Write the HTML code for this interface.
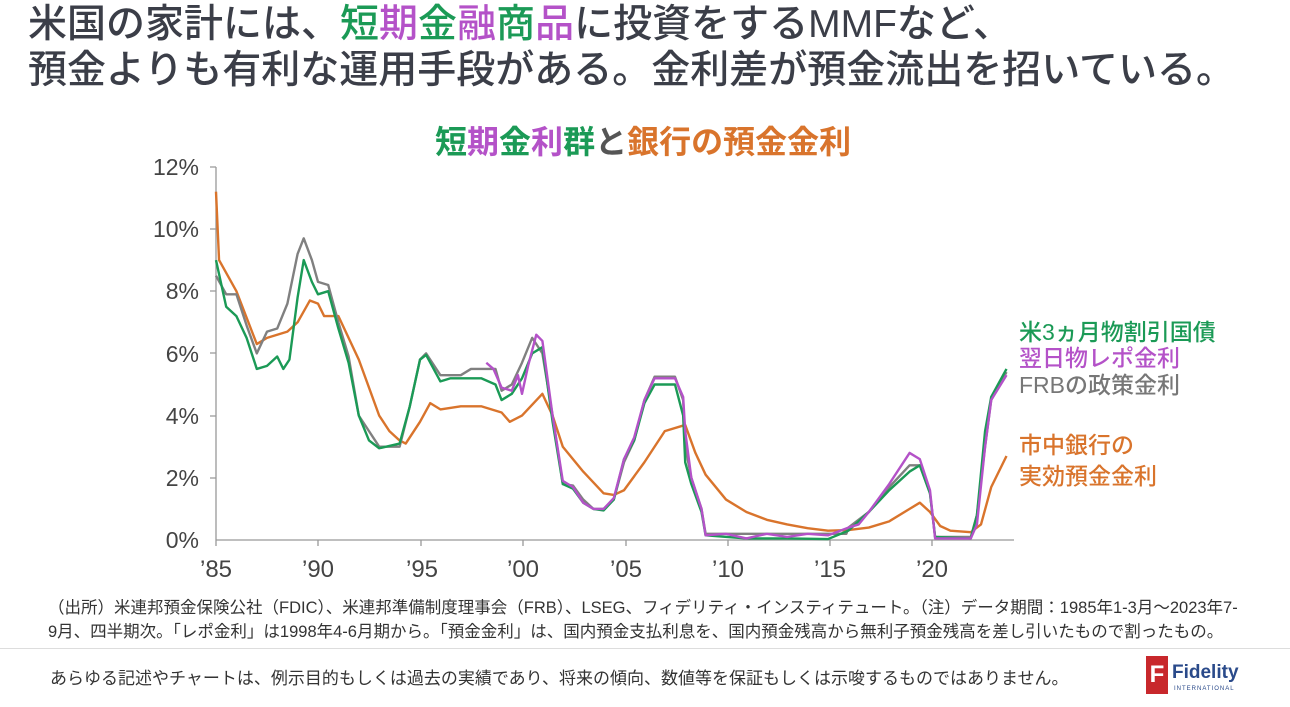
<!DOCTYPE html>
<html><head><meta charset="utf-8">
<style>
body{margin:0;width:1290px;height:707px;background:#fff;overflow:hidden;font-family:"Liberation Sans","Noto Sans CJK JP",sans-serif;position:relative}
.t{position:absolute;white-space:nowrap}
.g{color:#1b9a56}.p{color:#b452c8}.o{color:#d9742c}.y{color:#777}
</style></head><body>
<div class="t" style="left:28px;top:2px;font-size:39px;line-height:46px;color:#3b3e48;font-weight:500">米国の家計には、<span class="g">短</span><span class="p">期</span><span class="g">金</span><span class="p">融</span><span class="g">商</span><span class="p">品</span>に投資をするMMFなど、<br>預金よりも有利な運用手段がある。金利差が預金流出を招いている。</div>
<div class="t" style="left:435px;top:117px;font-size:32px;font-weight:bold"><span class="g">短</span><span class="p">期</span><span class="g">金</span><span class="p">利</span><span class="g">群</span><span style="color:#555">と</span><span class="o">銀行の預金金利</span></div>

<svg class="t" style="left:0;top:0" width="1290" height="600">
<g font-size="23" fill="#444" text-anchor="end">
<text x="199" y="548">0%</text><text x="199" y="486">2%</text><text x="199" y="424">4%</text><text x="199" y="362">6%</text><text x="199" y="299">8%</text><text x="199" y="237">10%</text><text x="199" y="175">12%</text>
</g>
<g font-size="24" fill="#444" text-anchor="middle">
<text x="216" y="577">’85</text><text x="318" y="577">’90</text><text x="422" y="577">’95</text><text x="523" y="577">’00</text><text x="626" y="577">’05</text><text x="728" y="577">’10</text><text x="830" y="577">’15</text><text x="932" y="577">’20</text>
</g>
<g stroke="#999" stroke-width="1.3" fill="none">
<line x1="216" y1="167" x2="216" y2="540"/><line x1="216" y1="540" x2="1014" y2="540"/>
<path d="M210 167H216M210 229H216M210 291H216M210 353H216M210 416H216M210 478H216M216 540V546M318 540V546M421 540V546M523 540V546M626 540V546M728 540V546M830 540V546M932 540V546"/>
</g>
<g transform="translate(216,540) scale(20.4,-31.1)" fill="none" stroke-width="2.4" stroke-linejoin="round">
<polyline vector-effect="non-scaling-stroke" stroke="#d9742c" points="0,11.2 0.15,9 1,8 2,6.3 2.5,6.5 3,6.6 3.5,6.7 4,7 4.6,7.7 5,7.6 5.3,7.2 6,7.2 7,5.8 8,4 8.5,3.5 9,3.2 9.3,3.1 10,3.8 10.5,4.4 11,4.2 12,4.3 13,4.3 14,4.1 14.4,3.8 15,4 16,4.7 16.5,4 17,3 18,2.2 19,1.5 19.5,1.45 20,1.6 21,2.5 22,3.5 23,3.7 23.5,2.8 24,2.1 25,1.3 26,0.9 27,0.65 28,0.5 29,0.38 30,0.3 31,0.32 32,0.4 33,0.6 34,1 34.5,1.2 35,0.9 35.5,0.45 36,0.3 37,0.25 37.5,0.5 38,1.7 38.75,2.7"/>
<polyline vector-effect="non-scaling-stroke" stroke="#808080" points="0,8.5 0.5,7.9 1,7.9 1.5,6.9 2,6 2.5,6.7 3,6.8 3.5,7.6 4,9.2 4.3,9.7 4.7,9 5,8.3 5.5,8.2 6,7 6.5,5.9 7,4 7.5,3.5 8,3 9,3 9.5,4.3 10,5.8 10.3,6 11,5.3 11.5,5.3 12,5.3 12.5,5.5 13,5.5 13.7,5.5 14,4.8 14.5,5 15,5.7 15.5,6.5 16,6 16.5,4 17,1.8 17.5,1.75 18,1.3 18.5,1 19,1 19.5,1.3 20,2.5 20.5,3.2 21,4.5 21.5,5.25 22.5,5.25 22.9,4.5 23,3 23.3,2 23.8,1 24,0.2 30.9,0.2 31,0.4 32,0.9 33,1.7 34,2.4 34.5,2.4 35,1.5 35.25,0.1 37,0.1 37.3,0.8 37.7,3 38,4.5 38.75,5.4"/>
<polyline vector-effect="non-scaling-stroke" stroke="#1b9a56" points="0,9 0.5,7.5 1,7.2 1.5,6.5 2,5.5 2.5,5.6 3,5.9 3.3,5.5 3.6,5.8 4,7.8 4.3,9 4.7,8.3 5,7.9 5.5,8 6,6.8 6.5,5.7 7,4 7.5,3.2 8,2.95 9,3.1 9.5,4.3 10,5.8 10.3,5.95 11,5.1 11.5,5.2 12,5.2 13,5.2 13.7,5 14,4.5 14.5,4.7 15,5.2 15.5,6 16,6.2 16.5,3.8 17,1.8 17.5,1.65 18,1.2 18.5,1 19,0.95 19.5,1.3 20,2.6 20.5,3.2 21,4.4 21.5,5 22.5,5 22.9,4 23,2.5 23.3,1.8 23.8,0.9 24,0.15 26,0.05 28,0.05 30,0.03 31,0.3 32,0.9 33,1.6 34,2.2 34.5,2.4 35,1.5 35.25,0.1 37,0.05 37.3,0.8 37.7,3.5 38,4.6 38.75,5.5"/>
<polyline vector-effect="non-scaling-stroke" stroke="#b452c8" points="13.25,5.7 13.6,5.5 14,4.9 14.5,4.8 14.8,5.3 15,4.7 15.3,5.6 15.7,6.6 16,6.4 16.5,4 17,1.9 17.5,1.7 18,1.2 18.5,1 19,1 19.5,1.35 20,2.6 20.5,3.3 21,4.5 21.5,5.2 22.5,5.2 22.9,4.6 23,3.5 23.3,2 23.8,1 24,0.15 25,0.2 26,0.05 27,0.2 28,0.1 29,0.2 30,0.15 31,0.4 31.5,0.5 32,0.9 33,1.8 34,2.8 34.5,2.6 35,1.6 35.25,0.05 37,0.05 37.3,0.5 37.7,3 38,4.5 38.75,5.3"/>
</g>
<g font-size="23" font-weight="500">
<text x="1019" y="340" fill="#1b9a56">米3ヵ月物割引国債</text>
<text x="1019" y="366" fill="#b452c8">翌日物レポ金利</text>
<text x="1019" y="393" fill="#777">FRBの政策金利</text>
<text x="1019" y="453" fill="#d9742c">市中銀行の</text>
<text x="1019" y="484" fill="#d9742c">実効預金金利</text>
</g>
</svg>

<div class="t" style="left:48px;top:596px;font-size:16.5px;line-height:24px;color:#333">（出所）米連邦預金保険公社（FDIC）、米連邦準備制度理事会（FRB）、LSEG、フィデリティ・インスティテュート。（注）データ期間：1985年1-3月～2023年7-<br>9月、四半期次。「レポ金利」は1998年4-6月期から。「預金金利」は、国内預金支払利息を、国内預金残高から無利子預金残高を差し引いたもので割ったもの。</div>
<div class="t" style="left:0;top:648px;width:1290px;height:1px;background:#ddd"></div>
<div class="t" style="left:50px;top:664px;font-size:17px;color:#333">あらゆる記述やチャートは、例示目的もしくは過去の実績であり、将来の傾向、数値等を保証もしくは示唆するものではありません。</div>
<div class="t" style="left:1146px;top:656px;width:22px;height:38px;background:#c8282c;color:#fff;font-weight:bold;font-size:24px;text-align:center;line-height:38px">F</div>
<div class="t" style="left:1172px;top:662px;font-size:19px;font-weight:bold;color:#2a4a8a">Fidelity</div>
<div class="t" style="left:1174px;top:686px;font-size:6px;color:#2a4a8a;letter-spacing:1px">INTERNATIONAL</div>
</body></html>
